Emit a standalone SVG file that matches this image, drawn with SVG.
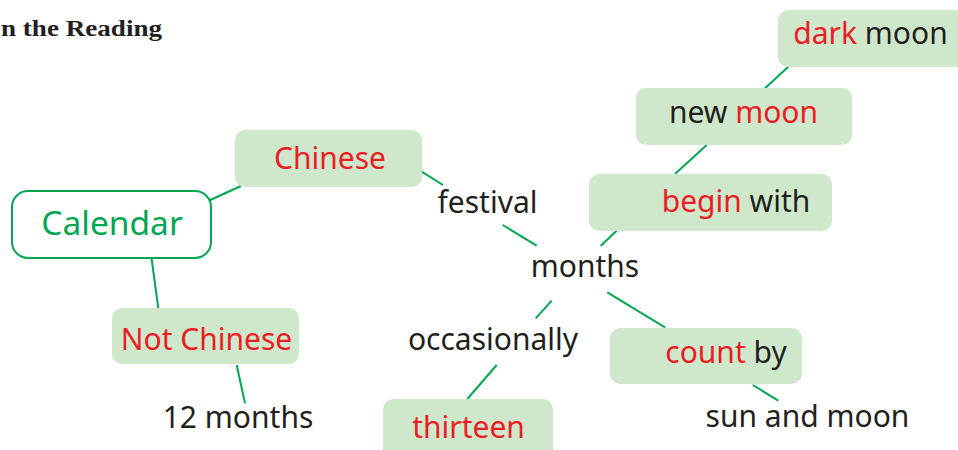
<svg xmlns="http://www.w3.org/2000/svg" width="958" height="450" viewBox="0 0 958 450">
<style>
.box{fill:#cfe8cc}
.cal{fill:#ffffff;stroke:#00a651;stroke-width:2}
.t{font-family:"Noto Sans","Open Sans",sans-serif;font-size:30px;fill:#231f20}
.r{fill:#ed1c24}
.g{fill:#00a651}
#connectors line{stroke:#00a651;stroke-width:2}
</style>
<rect width="958" height="450" fill="#ffffff"/>
<text x="1" y="36" font-family="Liberation Serif,serif" font-weight="bold" font-size="24" fill="#231f20" textLength="161" lengthAdjust="spacingAndGlyphs">n the Reading</text>
<g id="connectors">
<line x1="208" y1="201" x2="241" y2="186"/>
<line x1="421.7" y1="171.7" x2="443" y2="185"/>
<line x1="502.7" y1="225" x2="536.7" y2="245.7"/>
<line x1="600.7" y1="245.7" x2="616.7" y2="230.7"/>
<line x1="551.7" y1="300.7" x2="535.7" y2="318.3"/>
<line x1="607.3" y1="292.3" x2="665" y2="327.3"/>
<line x1="496.7" y1="365" x2="467.3" y2="399"/>
<line x1="752.7" y1="385" x2="778.3" y2="400.7"/>
<line x1="788.3" y1="66.7" x2="765" y2="88.3"/>
<line x1="706.7" y1="145" x2="675" y2="174"/>
<line x1="151.5" y1="258" x2="158.3" y2="308.3"/>
<line x1="236.7" y1="365" x2="245" y2="403.3"/>
</g>
<g id="calendar">
<rect class="cal" x="12" y="191" width="199" height="67" rx="16"/>
<text class="t g" x="112" y="235" style="font-size:33.5px" text-anchor="middle">Calendar</text>
</g>
<g id="chinese">
<rect class="box" x="235" y="130" width="187" height="57" rx="10"/>
<text class="t r" x="330" y="169" text-anchor="middle">Chinese</text>
</g>
<g id="not-chinese">
<rect class="box" x="112" y="308" width="187" height="56" rx="10"/>
<text class="t r" x="206.5" y="350" text-anchor="middle">Not Chinese</text>
</g>
<g id="twelve-months">
<text class="t" x="238" y="428" text-anchor="middle">12 months</text>
</g>
<g id="festival">
<text class="t" x="487.5" y="213" text-anchor="middle">festival</text>
</g>
<g id="months">
<text class="t" x="585" y="277" text-anchor="middle">months</text>
</g>
<g id="occasionally">
<text class="t" x="493" y="350" text-anchor="middle">occasionally</text>
</g>
<g id="thirteen">
<rect class="box" x="383" y="399" width="170" height="70" rx="10"/>
<text class="t r" x="468.5" y="438" text-anchor="middle">thirteen</text>
</g>
<g id="count-by">
<rect class="box" x="610" y="328" width="192" height="56" rx="10"/>
<text class="t" x="726" y="363" text-anchor="middle"><tspan class="r">count</tspan> by</text>
</g>
<g id="sun-and-moon">
<text class="t" x="807.5" y="427" text-anchor="middle">sun and moon</text>
</g>
<g id="begin-with">
<rect class="box" x="589" y="174" width="243" height="57" rx="10"/>
<text class="t" x="736" y="212" text-anchor="middle"><tspan class="r">begin</tspan> with</text>
</g>
<g id="new-moon">
<rect class="box" x="636" y="88" width="216" height="57" rx="10"/>
<text class="t" x="743.5" y="123" text-anchor="middle">new <tspan class="r">moon</tspan></text>
</g>
<g id="dark-moon">
<rect class="box" x="778" y="10" width="190" height="57" rx="10"/>
<text class="t" x="870.5" y="44" text-anchor="middle"><tspan class="r">dark</tspan> moon</text>
</g>
</svg>
